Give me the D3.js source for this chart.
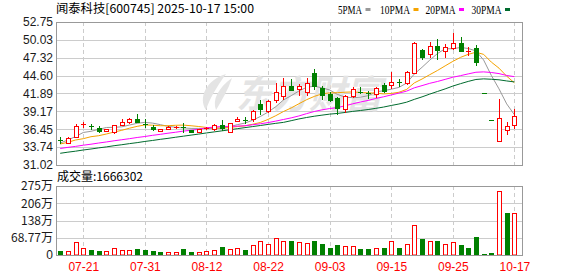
<!DOCTYPE html>
<html lang="zh">
<head>
<meta charset="UTF-8">
<title>闻泰科技 日K</title>
<script src="https://cdn.jsdelivr.net/npm/d3@7"></script>
<style>
  body { margin: 0; background: #fff; }
  svg { display: block; }
</style>
</head>
<body>
<svg id="chart" width="578" height="276"></svg>
<script>
// ---- data ----
const dates = ["07-16","07-17","07-18","07-21","07-22","07-23","07-24","07-25","07-28","07-29",
  "07-30","07-31","08-01","08-04","08-05","08-06","08-07","08-08","08-11","08-12",
  "08-13","08-14","08-15","08-18","08-19","08-20","08-21","08-22","08-25","08-26",
  "08-27","08-28","08-29","09-01","09-02","09-03","09-04","09-05","09-08","09-09",
  "09-10","09-11","09-12","09-15","09-16","09-17","09-18","09-19","09-22","09-23",
  "09-24","09-25","09-26","09-29","09-30","10-13","10-14","10-15","10-16","10-17"];

const open  = [34.85,34.41,35.23,37.14,37.02,36.64,36.23,36.03,37.14,37.51,
  38.06,37.28,36.84,36.23,36.53,36.72,36.80,36.29,36.03,36.55,
  36.44,37.10,36.08,37.71,37.90,37.96,40.29,39.26,40.90,41.51,
  43.02,42.52,42.16,45.05,42.68,41.81,41.16,39.48,41.51,42.18,
  41.95,41.81,43.18,43.18,43.56,43.53,45.05,48.50,47.84,49.10,
  48.30,48.84,49.60,48.28,48.80,42.00,37.80,34.60,36.38,37.05];
const high  = [35.32,35.35,37.20,37.55,37.20,36.95,36.52,37.10,37.96,38.16,
  38.77,38.01,37.14,36.50,36.95,36.95,37.45,36.35,36.48,36.75,
  37.25,37.86,37.40,38.27,38.36,39.38,40.90,40.90,43.48,44.24,
  44.09,43.33,44.19,45.56,43.02,42.16,41.35,41.66,42.92,42.83,
  42.31,42.92,43.43,45.11,44.04,45.35,49.71,48.69,49.71,50.21,
  49.45,51.08,50.47,48.95,49.21,42.00,37.80,41.00,37.55,39.48];
const low   = [34.41,34.29,35.20,36.84,36.54,36.03,36.20,35.93,37.05,37.40,
  37.48,36.84,36.34,36.20,36.44,36.65,36.03,36.00,36.00,36.45,
  36.40,36.34,36.00,37.65,37.36,37.78,38.77,39.07,40.59,41.05,
  42.42,41.66,41.66,42.52,41.00,40.79,38.77,39.12,41.40,41.92,
  41.16,41.40,42.16,42.68,43.02,43.33,45.00,47.08,47.43,47.17,
  47.43,48.69,48.30,47.69,46.26,42.00,37.80,34.60,35.78,36.64];
const close = [34.80,35.05,36.95,37.18,36.72,36.26,36.49,37.05,37.60,38.06,
  37.58,37.20,36.49,36.44,36.76,36.87,36.75,36.08,36.44,36.62,
  37.10,36.64,37.36,38.01,37.84,39.27,39.48,40.70,42.11,42.95,
  42.49,43.02,43.53,43.02,41.66,40.90,39.64,41.51,42.52,42.12,
  41.88,42.68,42.31,43.68,43.50,45.20,49.56,47.39,49.10,48.50,
  48.90,49.51,48.39,48.32,46.67,42.00,37.80,38.16,36.90,38.42];
const volume = [159000,146000,505000,266000,199000,159000,146000,266000,186000,186000,
  239000,199000,159000,120000,106000,106000,239000,120000,106000,146000,
  186000,319000,226000,266000,199000,385000,545000,425000,664000,545000,
  545000,505000,465000,558000,425000,279000,399000,346000,346000,239000,
  239000,266000,279000,545000,279000,425000,1183000,638000,545000,545000,
  425000,505000,399000,279000,718000,40000,80000,2538000,1674000,1666302];

// MA values at the start of the window (they depend on days before the chart)
const ma5Head  = [34.36,34.82,35.35,35.96];
const ma10Head = [34.21,34.47,34.82,35.02,35.32,35.47,35.73,36.03,36.29];
const ma20Head = [33.53,33.70,33.85,34.03,34.18,34.36,34.52,34.70,34.86,35.02,
  35.20,35.35,35.53,35.68,35.85,36.00,36.17,36.30,36.45];
const ma30Head = [32.80,32.97,33.12,33.30,33.45,33.62,33.77,33.95,34.10,34.27,
  34.42,34.60,34.75,34.92,35.07,35.24,35.40,35.56,35.72,35.89,
  36.05,36.21,36.37,36.54,36.70,36.86,37.02,37.19,37.35];

const priceTicks  = [31.02,33.74,36.45,39.17,41.89,44.60,47.32,50.03,52.75];
const priceLabels = ["31.02","33.74","36.45","39.17","41.89","44.60","47.32","50.03","52.75"];
const volTicks    = [0,687700,1375400,2063100,2750800];
const volLabels   = ["0","68.77万","138万","206万","275万"];
const xTickDates  = ["07-21","07-31","08-12","08-22","09-03","09-15","09-25","10-17"];

const title = "闻泰科技[600745] 2025-10-17 15:00";
const maNames  = ["5PMA","10PMA","20PMA","30PMA"];
const maColors = ["#999999","#f5a300","#ff00ff","#006b2e"];

// ---- layout ----
const RED = "#ff0000", GREEN = "#008000", GRID = "#cccccc", BORDER = "#999999";
const left = 56, right = 522, pTop = 22, pBottom = 165, vTop = 186, vBottom = 255;
const SANS = "'Liberation Sans', Arial, sans-serif";
const CJK = "'Noto Sans CJK SC', sans-serif";

const svg = d3.select("#chart");

const x = d3.scalePoint().domain(dates).range([60.2, 514.4]);
const y = d3.scaleLinear().domain([priceTicks[0], priceTicks[priceTicks.length - 1]]).range([pBottom, pTop]);
const yv = d3.scaleLinear().domain([0, volTicks[volTicks.length - 1]]).range([vBottom, vTop]);
const px = d => Math.round(x(d));

const idx = d3.range(dates.length);
const up = i => close[i] > open[i] || (close[i] === open[i] && i > 0 && close[i] >= close[i - 1]);
const volUp = i => i === 0 ? close[i] >= open[i] : close[i] >= close[i - 1];

function movingAvg(n, head) {
  return idx.map(i => i < n - 1 ? head[i] : d3.mean(close.slice(i - n + 1, i + 1)));
}
const maSeries = [movingAvg(5, ma5Head), movingAvg(10, ma10Head), movingAvg(20, ma20Head), movingAvg(30, ma30Head)];

// ---- header ----
svg.append("text").attr("x", 56).attr("y", 13)
  .attr("font-family", CJK).attr("font-size", 12).attr("fill", "#000")
  .attr("textLength", 198).attr("lengthAdjust", "spacingAndGlyphs")
  .text(title);

const legendX = [338, 380, 425.5, 471.5];
const legend = svg.append("g");
maNames.forEach((n, k) => {
  legend.append("text").attr("x", legendX[k]).attr("y", 13.5)
    .attr("font-family", "'Liberation Serif', serif").attr("font-size", 12).attr("fill", "#000")
    .attr("textLength", n.length * 6).attr("lengthAdjust", "spacingAndGlyphs")
    .text(n);
  legend.append("rect").attr("x", legendX[k] + n.length * 6 + 3.5).attr("y", 8)
    .attr("width", 5).attr("height", 3).attr("fill", maColors[k]);
});

// ---- grids ----
function hGrid(ticks, scale) {
  svg.append("g").selectAll("line").data(ticks.slice(1, -1)).join("line")
    .attr("x1", left).attr("x2", right)
    .attr("y1", d => Math.round(scale(d)) + 0.5).attr("y2", d => Math.round(scale(d)) + 0.5)
    .attr("stroke", GRID);
}
function vGrid(t, b) {
  svg.append("g").selectAll("line").data(xTickDates).join("line")
    .attr("x1", d => px(d) + 0.5).attr("x2", d => px(d) + 0.5)
    .attr("y1", t).attr("y2", b)
    .attr("stroke", GRID).attr("stroke-dasharray", "4,3");
}
hGrid(priceTicks, y);
vGrid(pTop, pBottom);
hGrid(volTicks, yv);
vGrid(vTop, vBottom);

// ---- watermark ----
const wm = svg.append("g").attr("fill", "#e4e4e4");
wm.append("path").attr("d", "M226,74 C206,80 198,98 206,110 C210,98 216,88 226,74 Z");
wm.append("path").attr("d", "M232,78 C218,88 212,100 216,110 C222,100 228,90 232,78 Z");
wm.append("text").attr("x", 236).attr("y", 108)
  .attr("font-family", CJK).attr("font-size", 38).attr("font-weight", "bold")
  .attr("font-style", "italic").attr("textLength", 146).attr("lengthAdjust", "spacingAndGlyphs")
  .text("东方财富");

// ---- axes ----
function styleAxis(g, color) {
  g.select(".domain").remove();
  g.selectAll("text").attr("font-family", SANS).attr("font-size", 12).attr("fill", color);
}
svg.append("g").attr("transform", `translate(${left},0)`)
  .call(d3.axisLeft(y).tickValues(priceTicks).tickSize(0).tickPadding(3)
    .tickFormat((d, i) => priceLabels[i]))
  .call(g => styleAxis(g, "#1a1a1a"));
svg.append("g").attr("transform", `translate(${left},0)`)
  .call(d3.axisLeft(yv).tickValues(volTicks).tickSize(0).tickPadding(3)
    .tickFormat((d, i) => volLabels[i]))
  .call(g => styleAxis(g, "#1a1a1a"))
  .selectAll("text").attr("font-family", (d, i) => i > 0 ? CJK : SANS);
svg.append("g").attr("transform", `translate(0,${vBottom})`)
  .call(d3.axisBottom(x).tickValues(xTickDates).tickSize(0).tickPadding(7))
  .call(g => styleAxis(g, RED));

// ---- moving averages ----
const line = d3.line().x((d, i) => x(dates[i])).y(d => y(d));
svg.append("g").selectAll("path").data(maSeries).join("path")
  .attr("d", line).attr("fill", "none")
  .attr("stroke", (d, k) => maColors[k]).attr("stroke-width", 1);

// ---- candles ----
const cg = svg.append("g").selectAll("g").data(idx).join("g");
cg.each(function (i) {
  const g = d3.select(this);
  const cx = px(dates[i]);
  const yo = Math.round(y(open[i])), yc = Math.round(y(close[i]));
  const yh = Math.round(y(high[i])), yl = Math.round(y(low[i]));
  const top = Math.min(yo, yc), bot = Math.max(yo, yc);
  const col = up(i) ? RED : GREEN;
  if (bot - top < 2) {
    g.append("line").attr("x1", cx + 0.5).attr("x2", cx + 0.5).attr("y1", yh).attr("y2", yl + 1).attr("stroke", col);
    g.append("rect").attr("x", cx - 2).attr("y", top).attr("width", 5).attr("height", 1).attr("fill", col);
  } else if (up(i)) {
    g.append("line").attr("x1", cx + 0.5).attr("x2", cx + 0.5).attr("y1", yh).attr("y2", top).attr("stroke", col);
    g.append("line").attr("x1", cx + 0.5).attr("x2", cx + 0.5).attr("y1", bot).attr("y2", yl + 1).attr("stroke", col);
    g.append("rect").attr("x", cx - 1.5).attr("y", top + 0.5).attr("width", 4).attr("height", bot - top)
      .attr("fill", "#fff").attr("stroke", col);
  } else {
    g.append("line").attr("x1", cx + 0.5).attr("x2", cx + 0.5).attr("y1", yh).attr("y2", yl + 1).attr("stroke", col);
    g.append("rect").attr("x", cx - 2).attr("y", top).attr("width", 5).attr("height", bot - top + 1).attr("fill", col);
  }
});

// ---- volume ----
svg.append("g").selectAll("rect").data(idx).join("rect")
  .attr("x", i => volUp(i) ? px(dates[i]) - 1.5 : px(dates[i]) - 2)
  .attr("y", i => Math.round(yv(volume[i])) + (volUp(i) ? 0.5 : 0))
  .attr("width", i => volUp(i) ? 4 : 5)
  .attr("height", i => vBottom - Math.round(yv(volume[i])) - (volUp(i) ? 0.5 : 0))
  .attr("fill", i => volUp(i) ? "#fff" : GREEN)
  .attr("stroke", i => volUp(i) ? RED : "none");

svg.append("text").attr("x", 57).attr("y", 181)
  .attr("font-family", CJK).attr("font-size", 12).attr("fill", "#000")
  .text("成交量:" + volume[volume.length - 1]);

// ---- panel borders ----
[[pTop, pBottom], [vTop, vBottom]].forEach(([t, b]) => {
  svg.append("rect").attr("x", left + 0.5).attr("y", t + 0.5)
    .attr("width", right - left).attr("height", b - t)
    .attr("fill", "none").attr("stroke", BORDER);
});
</script>
</body>
</html>
